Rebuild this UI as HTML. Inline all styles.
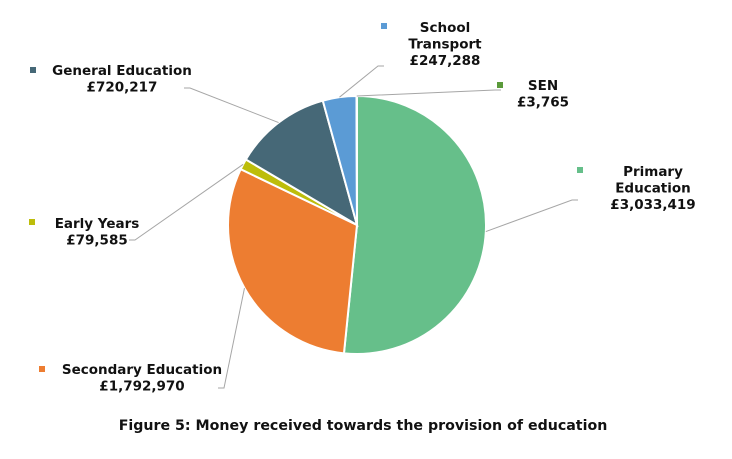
<!DOCTYPE html>
<html><head><meta charset="utf-8"><style>
body{margin:0;background:#fff;width:732px;height:459px;overflow:hidden}
svg{display:block}
text{font-family:"DejaVu Sans","Liberation Sans",sans-serif;font-weight:bold;font-size:13.5px;fill:#111}
</style></head><body>
<svg width="732" height="459">
<text x="360" y="-3" text-anchor="middle" style="fill:#aaa">has been received</text>
<g id="slices"></g>
<g id="labels"></g>
<text x="363" y="430" text-anchor="middle" style="font-size:14.2px">Figure 5: Money received towards the provision of education</text>
</svg>
<script>
const categories=["Primary Education","Secondary Education","Early Years","General Education","School Transport","SEN"];
const values=[3033419,1792970,79585,720217,247288,3765];
const valueLabels=["£3,033,419","£1,792,970","£79,585","£720,217","£247,288","£3,765"];
const colors=["#66BF8A","#ED7D31","#BDBD0A","#466877","#5B9BD5","#5A9A3A"];
const labelLines=[["Primary","Education"],["Secondary Education"],["Early Years"],["General Education"],["School","Transport"],["SEN"]];
// label layout: [centerX, firstBaselineY, markerX, markerY, lineEndX, lineEndY]
const layout=[[653,176,580,170,572,200],[142,374,42,369,224,388],[97,228,32,222,135,240],[122,75,33,70,190,88],[445,32,384,26,378,66],[543,90,500,85,495,90]];
const cx=357,cy=225,r=129,NS="http://www.w3.org/2000/svg";
const total=values.reduce((a,b)=>a+b,0);
const sg=document.getElementById('slices'),lg=document.getElementById('labels');
function pt(a,rr){return [cx+rr*Math.sin(a),cy-rr*Math.cos(a)];}
let a0=0;
values.forEach((v,i)=>{
  const a1=a0+v/total*2*Math.PI;
  const p0=pt(a0,r),p1=pt(a1,r),large=(a1-a0)>Math.PI?1:0;
  const p=document.createElementNS(NS,'path');
  p.setAttribute('d',`M${cx},${cy}L${p0[0]},${p0[1]}A${r},${r} 0 ${large} 1 ${p1[0]},${p1[1]}Z`);
  p.setAttribute('fill',colors[i]);p.setAttribute('stroke','#fff');p.setAttribute('stroke-width','2');
  
  
  sg.appendChild(p);
  const mid=(a0+a1)/2,e=pt(mid,r),L=layout[i];
  const ln=document.createElementNS(NS,'polyline');
  ln.setAttribute('points',`${e[0]},${e[1]} ${L[4]},${L[5]} ${L[4]+(L[4]>e[0]?6:-6)},${L[5]}`);
  ln.setAttribute('fill','none');ln.setAttribute('stroke','#a6a6a6');ln.setAttribute('stroke-width','1');
  
  
  lg.appendChild(ln);
  const m=document.createElementNS(NS,'rect');
  m.setAttribute('x',L[2]-3);m.setAttribute('y',L[3]-3);m.setAttribute('width',6);m.setAttribute('height',6);m.setAttribute('fill',colors[i]);
  
  
  lg.appendChild(m);
  const lines=labelLines[i].concat([valueLabels[i]]);
  lines.forEach((s,k)=>{
    const t=document.createElementNS(NS,'text');
    t.setAttribute('x',L[0]);t.setAttribute('y',L[1]+k*16.5);t.setAttribute('text-anchor','middle');
    t.textContent=s;
    
    
    lg.appendChild(t);
  });
  a0=a1;
});
</script>
</body></html>
